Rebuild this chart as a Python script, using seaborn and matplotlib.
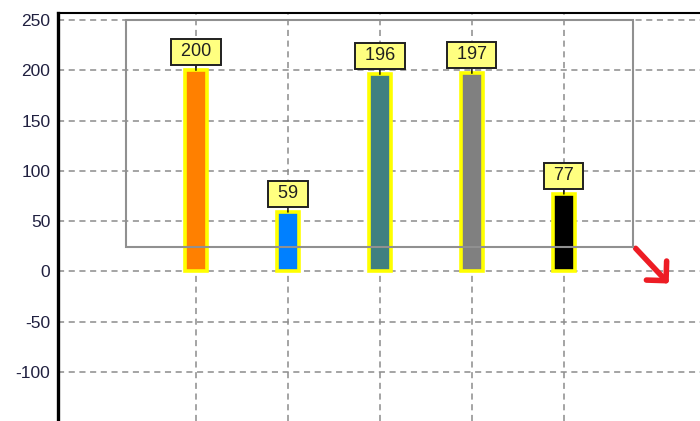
import numpy as np
import matplotlib
matplotlib.use("Agg")
import matplotlib.pyplot as plt
from matplotlib.patches import Rectangle
from matplotlib.ticker import MultipleLocator
import seaborn as sns

# Chart data
categories = ["A", "B", "C", "D", "E"]
values = [200, 59, 196, 197, 77]
bar_colors = ["#FF8000", "#0080FF", "#408080", "#808080", "#000000"]
y_ticks = [-100, -50, 0, 50, 100, 150, 200, 250]

# selection box drawn over the plot (category units, value units)
sel_x = [-0.76, 4.75]
sel_y = [24, 250]

sns.set_style("white")
plt.rcParams["font.family"] = ["Liberation Sans", "DejaVu Sans"]
plt.rcParams["axes.unicode_minus"] = False

fig = plt.figure(figsize=(7, 4.21), dpi=100)
ax = fig.add_axes([58 / 700, 0, 642 / 700, 408 / 421])

sns.barplot(x=categories, y=values, hue=categories, palette=bar_colors,
            legend=False, width=0.235, edgecolor="#FFFF00", linewidth=2.6,
            saturation=1, ax=ax, zorder=2)

ax.set_xlim(-1.5, 5.48)
ax.set_ylim(-148.7, 257)
ax.set_yticks(y_ticks)
ax.yaxis.set_minor_locator(MultipleLocator(10))
ax.set_xticks(range(len(categories)))
ax.set_xticklabels([])
ax.set_xlabel("")
ax.set_ylabel("")

ax.set_axisbelow(True)
ax.grid(True, which="major", color="#8c8c8c", linestyle=(0, (4, 3)), linewidth=1.1)

ax.tick_params(axis="y", which="major", direction="inout", length=5, width=1,
               color="#808080", labelsize=12.5, labelcolor="#202040", pad=3)
ax.tick_params(axis="y", which="minor", direction="inout", length=3, width=1,
               color="#a0a0a0")
ax.tick_params(axis="x", length=0)

for side in ["right", "bottom"]:
    ax.spines[side].set_visible(False)
ax.spines["left"].set_linewidth(2.4)
ax.spines["left"].set_color("black")
ax.spines["top"].set_linewidth(1.5)
ax.spines["top"].set_color("black")

# value labels
for i, v in enumerate(values):
    ax.annotate(f" {v} ", xy=(i, v), xytext=(0, 10), textcoords="offset pixels",
                ha="center", va="bottom", fontsize=13, color="#202020", zorder=5,
                bbox=dict(boxstyle="square,pad=0.25", fc="#FFFF80", ec="#202020", lw=1.4),
                arrowprops=dict(arrowstyle="-", color="black", lw=1, shrinkA=0, shrinkB=0))

# selection rectangle and resize arrow
ax.add_patch(Rectangle((sel_x[0], sel_y[0]), sel_x[1] - sel_x[0], sel_y[1] - sel_y[0],
                       fill=False, ec="#909090", lw=1.5, zorder=4))
ax.annotate("", xy=(sel_x[1] + 0.39, sel_y[0] - 36), xytext=(sel_x[1] + 0.03, sel_y[0] - 1),
            arrowprops=dict(arrowstyle="->,head_length=1.0,head_width=1.0", color="#ED1C24",
                            lw=4, mutation_scale=10, shrinkA=0, shrinkB=0))

plt.savefig("out.png", dpi=100)
